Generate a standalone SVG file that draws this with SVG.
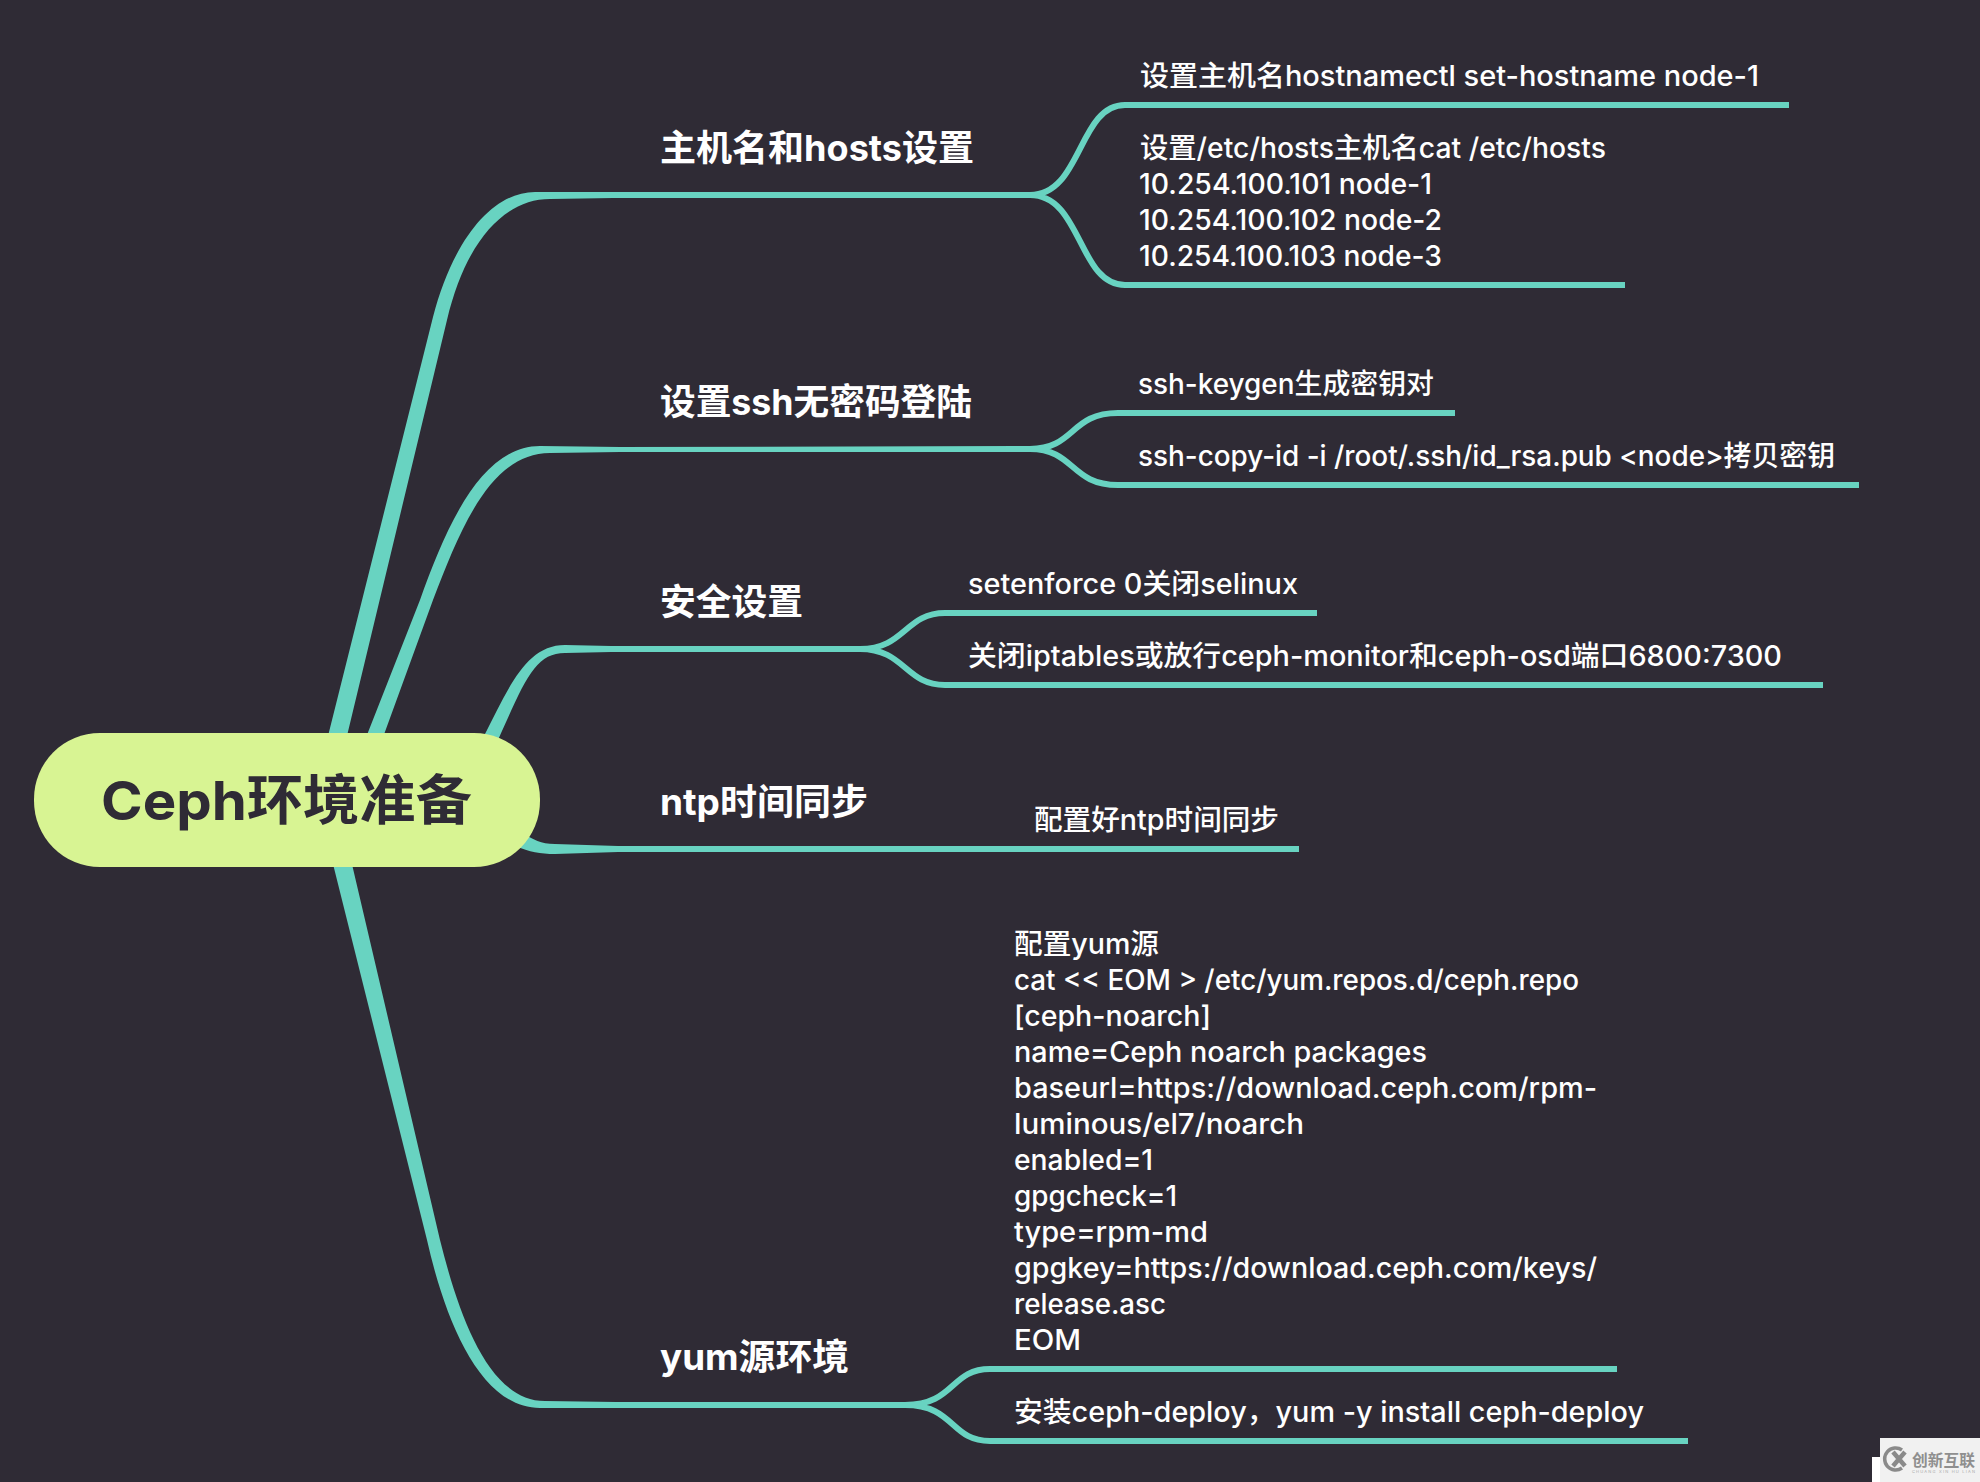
<svg xmlns="http://www.w3.org/2000/svg" width="1980" height="1482" viewBox="0 0 1980 1482">
<style>
text{font-family:"Inter","Noto Sans CJK SC",sans-serif;fill:#fff}
.h{font-size:36px;font-weight:700}
.t{font-size:28px;font-weight:500}
.c{fill:#68d3c1}
.s{fill:none;stroke:#68d3c1;stroke-width:6}
</style>
<rect width="1980" height="1482" fill="#2f2b35"/>
<g id="connectors">
<path class="c" d="M327,740L433,317C453,240 492,192 535,192L613,192L1040,192V198L613,198L550,199C505,199 466,240 447,320L346,740Z"/>
<path class="s" d="M1030,195C1082,195 1078,105 1125,105H1789M1030,195C1082,195 1078,285 1125,285H1625"/>
<path class="c" d="M365,740L420,600C445,530 480,446 540,446L620,447L1040,446V452L620,452L550,453C490,453 460,530 433,600L382,740Z"/>
<path class="s" d="M1030,449C1075,449 1070,413 1118,413H1455M1030,449C1075,449 1070,485 1118,485H1859"/>
<path class="c" d="M484,736C508,690 525,645 565,645L611,646L880,646V652L611,652L565,653C535,653 525,680 498,740Z"/>
<path class="s" d="M860,649C905,649 905,613 945,613H1317M860,649C905,649 905,685 945,685H1823"/>
<path class="c" d="M520,832C535,840 540,844 555,844L618,846H1299V852H618L555,854C540,854 530,852 515,846Z"/>
<path class="c" d="M332,860L427,1240C445,1320 480,1408 540,1408L616,1408L925,1408V1402L616,1402L545,1401C490,1401 460,1320 440,1240L351,860Z"/>
<path class="s" d="M905,1405C955,1405 950,1369 990,1369H1617M905,1405C955,1405 950,1441 990,1441H1688"/>
</g>
<g id="root">
<rect x="34" y="733" width="506" height="134" rx="66" fill="#d8f493"/>
<text x="101" y="820" font-size="54" font-weight="700" style="fill:#2f2b35" textLength="371" lengthAdjust="spacingAndGlyphs">Ceph环境准备</text>
</g>
<g id="n1">
<text class="h" x="660" y="161" textLength="314" lengthAdjust="spacingAndGlyphs">主机名和hosts设置</text>
<text class="t" x="1140" y="86" textLength="619" lengthAdjust="spacingAndGlyphs">设置主机名hostnamectl set-hostname node-1</text>
<text class="t" x="1140" y="158" textLength="466" lengthAdjust="spacingAndGlyphs">设置/etc/hosts主机名cat /etc/hosts</text>
<text class="t" x="1139" y="194" textLength="293" lengthAdjust="spacingAndGlyphs">10.254.100.101 node-1</text>
<text class="t" x="1139" y="230" textLength="303" lengthAdjust="spacingAndGlyphs">10.254.100.102 node-2</text>
<text class="t" x="1139" y="266" textLength="303" lengthAdjust="spacingAndGlyphs">10.254.100.103 node-3</text>
</g>
<g id="n2">
<text class="h" x="660" y="415" textLength="312" lengthAdjust="spacingAndGlyphs">设置ssh无密码登陆</text>
<text class="t" x="1138" y="394" textLength="296" lengthAdjust="spacingAndGlyphs">ssh-keygen生成密钥对</text>
<text class="t" x="1138" y="466" textLength="697" lengthAdjust="spacingAndGlyphs">ssh-copy-id -i /root/.ssh/id_rsa.pub &lt;node&gt;拷贝密钥</text>
</g>
<g id="n3">
<text class="h" x="660" y="615" textLength="143" lengthAdjust="spacingAndGlyphs">安全设置</text>
<text class="t" x="968" y="594" textLength="330" lengthAdjust="spacingAndGlyphs">setenforce 0关闭selinux</text>
<text class="t" x="968" y="666" textLength="814" lengthAdjust="spacingAndGlyphs">关闭iptables或放行ceph-monitor和ceph-osd端口6800:7300</text>
</g>
<g id="n4">
<text class="h" x="660" y="815" textLength="208" lengthAdjust="spacingAndGlyphs">ntp时间同步</text>
<text class="t" x="1034" y="830" textLength="245" lengthAdjust="spacingAndGlyphs">配置好ntp时间同步</text>
</g>
<g id="n5">
<text class="h" x="660" y="1370" textLength="189" lengthAdjust="spacingAndGlyphs">yum源环境</text>
<text class="t" x="1014" y="954" textLength="145" lengthAdjust="spacingAndGlyphs">配置yum源</text>
<text class="t" x="1014" y="990" textLength="565" lengthAdjust="spacingAndGlyphs">cat &lt;&lt; EOM &gt; /etc/yum.repos.d/ceph.repo</text>
<text class="t" x="1014" y="1026" textLength="197" lengthAdjust="spacingAndGlyphs">[ceph-noarch]</text>
<text class="t" x="1014" y="1062" textLength="413" lengthAdjust="spacingAndGlyphs">name=Ceph noarch packages</text>
<text class="t" x="1014" y="1098" textLength="583" lengthAdjust="spacingAndGlyphs">baseurl=https://download.ceph.com/rpm-</text>
<text class="t" x="1014" y="1134" textLength="290" lengthAdjust="spacingAndGlyphs">luminous/el7/noarch</text>
<text class="t" x="1014" y="1170" textLength="139" lengthAdjust="spacingAndGlyphs">enabled=1</text>
<text class="t" x="1014" y="1206" textLength="163" lengthAdjust="spacingAndGlyphs">gpgcheck=1</text>
<text class="t" x="1014" y="1242" textLength="194" lengthAdjust="spacingAndGlyphs">type=rpm-md</text>
<text class="t" x="1014" y="1278" textLength="583" lengthAdjust="spacingAndGlyphs">gpgkey=https://download.ceph.com/keys/</text>
<text class="t" x="1014" y="1314" textLength="152" lengthAdjust="spacingAndGlyphs">release.asc</text>
<text class="t" x="1014" y="1350" textLength="67" lengthAdjust="spacingAndGlyphs">EOM</text>
<text class="t" x="1014" y="1422" textLength="630" lengthAdjust="spacingAndGlyphs">安装ceph-deploy，yum -y install ceph-deploy</text>
</g>
<g id="watermark">
<rect x="1880" y="1438" width="100" height="44" fill="#f1f1f1"/>
<rect x="1872" y="1457" width="8" height="25" fill="#fff"/>
<path d="M1902,1450A11,11 0 1 0 1902,1468" fill="none" stroke="#8a8a8a" stroke-width="3.5"/>
<path d="M1893,1452L1905,1466M1905,1452L1893,1466" fill="none" stroke="#8a8a8a" stroke-width="4.5"/>
<text x="1912" y="1466" font-size="16" font-weight="700" style="font-family:'Noto Sans CJK SC',sans-serif;fill:#8f8f8f" textLength="63" lengthAdjust="spacingAndGlyphs">创新互联</text>
<text x="1912" y="1473" font-size="4" style="fill:#aaa" textLength="63">CHUANG XIN HU LIAN</text>
</g>
</svg>
